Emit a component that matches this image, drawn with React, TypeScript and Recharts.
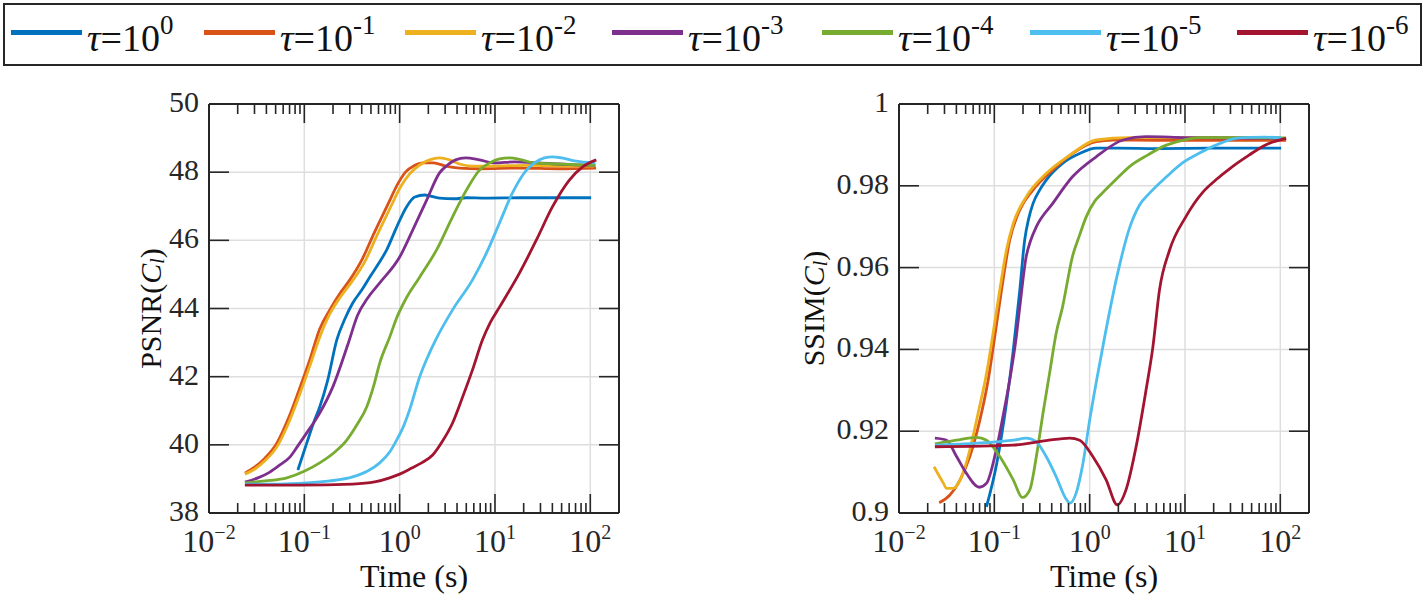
import React from 'react';
import { LineChart, Line, XAxis, YAxis, CartesianGrid, ReferenceLine, Legend } from 'recharts';

// ---------- ticks ----------
const X_DOMAIN: [number, number] = [0.01, 200];
const X_MAJOR = [0.01, 0.1, 1, 10, 100];
const X_MINOR = [
  0.02, 0.03, 0.04, 0.05, 0.06, 0.07, 0.08, 0.09,
  0.2, 0.3, 0.4, 0.5, 0.6, 0.7, 0.8, 0.9,
  2, 3, 4, 5, 6, 7, 8, 9,
  20, 30, 40, 50, 60, 70, 80, 90,
];
const X_TICKS = [...X_MAJOR, ...X_MINOR].sort((a, b) => a - b);
const PSNR_TICKS = [38, 40, 42, 44, 46, 48, 50];
const SSIM_TICKS = [0.9, 0.92, 0.94, 0.96, 0.98, 1];

// ---------- series meta ----------
const TAU_EXP = ['0', '-1', '-2', '-3', '-4', '-5', '-6'];
const COLORS = ['#0072BD', '#D95319', '#EDB120', '#7E2F8E', '#77AC30', '#4DBEEE', '#A2142F'];

// ---------- PSNR data [t, value] ----------
const psnrTau0 = [[0.0855, 39.26], [0.106, 40.05], [0.126, 40.67], [0.145, 41.11], [0.176, 41.9], [0.219, 43.08], [0.266, 43.69], [0.322, 44.16], [0.4, 44.54], [0.485, 44.92], [0.618, 45.37], [0.731, 45.72], [0.93, 46.39], [1.18, 46.98], [1.44, 47.27], [1.83, 47.33], [2.62, 47.24], [3.77, 47.22], [5, 47.25], [8, 47.24], [20, 47.25], [50, 47.25], [102, 47.25]];
const psnrTau1 = [[0.0238, 39.17], [0.0303, 39.35], [0.0386, 39.61], [0.0515, 40.05], [0.0705, 40.88], [0.0897, 41.67], [0.114, 42.49], [0.145, 43.4], [0.185, 43.96], [0.235, 44.43], [0.3, 44.84], [0.4, 45.42], [0.547, 46.25], [0.748, 47.04], [0.953, 47.65], [1.156, 48.01], [1.4, 48.18], [1.78, 48.27], [2.27, 48.27], [3.03, 48.18], [4.25, 48.12], [6.88, 48.1], [18, 48.12], [47, 48.1], [115, 48.12]];
const psnrTau2 = [[0.0238, 39.14], [0.0303, 39.29], [0.0386, 39.53], [0.0515, 39.94], [0.0705, 40.73], [0.0897, 41.49], [0.114, 42.31], [0.145, 43.16], [0.185, 43.84], [0.235, 44.31], [0.314, 44.78], [0.43, 45.37], [0.588, 46.19], [0.805, 46.98], [1.024, 47.57], [1.273, 47.95], [1.62, 48.21], [2.06, 48.36], [2.62, 48.42], [3.34, 48.36], [4.25, 48.24], [5.68, 48.18], [8.76, 48.18], [23, 48.2], [60, 48.18], [110, 48.18]];
const psnrTau3 = [[0.0238, 38.91], [0.0326, 39.03], [0.0435, 39.2], [0.0554, 39.41], [0.0705, 39.64], [0.0855, 39.97], [0.106, 40.35], [0.145, 40.93], [0.199, 41.7], [0.285, 42.93], [0.363, 43.81], [0.462, 44.31], [0.618, 44.75], [1.0, 45.51], [1.37, 46.3], [1.92, 47.18], [2.62, 47.98], [3.18, 48.21], [3.86, 48.36], [4.91, 48.42], [6.88, 48.36], [9.88, 48.27], [16, 48.3], [29, 48.27], [60, 48.22], [113, 48.2]];
const psnrTau4 = [[0.0238, 38.88], [0.0386, 38.94], [0.0656, 39.03], [0.101, 39.23], [0.145, 39.47], [0.209, 39.79], [0.279, 40.14], [0.355, 40.58], [0.451, 41.11], [0.534, 41.73], [0.618, 42.4], [0.786, 43.16], [0.93, 43.72], [1.13, 44.22], [1.62, 44.92], [2.44, 45.72], [3.59, 46.69], [5.03, 47.48], [6.88, 48.06], [8.76, 48.27], [11.15, 48.39], [14.2, 48.42], [19, 48.36], [26, 48.27], [47, 48.24], [113, 48.2]];
const psnrTau5 = [[0.0238, 38.85], [0.0554, 38.85], [0.106, 38.88], [0.185, 38.94], [0.322, 39.06], [0.462, 39.23], [0.618, 39.47], [0.786, 39.79], [0.93, 40.14], [1.1, 40.55], [1.27, 41.02], [1.62, 41.99], [1.97, 42.58], [2.44, 43.13], [3.59, 43.96], [5.81, 44.84], [8.15, 45.63], [11.15, 46.51], [15.25, 47.39], [21.4, 48.06], [25.9, 48.27], [33, 48.42], [40, 48.45], [49.7, 48.42], [68, 48.33], [113, 48.27]];
const psnrTau6 = [[0.0238, 38.82], [0.0897, 38.82], [0.322, 38.85], [0.547, 38.91], [0.786, 39.03], [1.0, 39.14], [1.34, 39.32], [1.7, 39.47], [2.22, 39.7], [2.82, 40.11], [3.59, 40.64], [4.57, 41.4], [5.81, 42.2], [7.4, 43.08], [8.97, 43.6], [11.15, 44.04], [18.05, 45.04], [27.2, 46.01], [40, 46.98], [60.3, 47.77], [82.5, 48.15], [115.6, 48.36]];

// ---------- SSIM data [t, value] ----------
const ssimTau0 = [[0.0827, 0.9015], [0.106, 0.9121], [0.134, 0.9268], [0.158, 0.9398], [0.185, 0.9545], [0.208, 0.9667], [0.23, 0.9721], [0.255, 0.9757], [0.2995, 0.979], [0.35, 0.9814], [0.52, 0.9855], [0.786, 0.9879], [1.17, 0.9892], [2, 0.9892], [5, 0.9891], [20, 0.9892], [102, 0.9892]];
const ssimTau1 = [[0.0264, 0.9025], [0.0342, 0.9044], [0.0435, 0.908], [0.0553, 0.9138], [0.0705, 0.9227], [0.0862, 0.9325], [0.101, 0.9431], [0.119, 0.9545], [0.145, 0.9667], [0.185, 0.9741], [0.255, 0.979], [0.41, 0.9839], [0.66, 0.9879], [1.17, 0.9908], [1.75, 0.9912], [5, 0.9911], [20, 0.9911], [115, 0.9911]];
const ssimTau2 = [[0.0233, 0.9113], [0.0292, 0.9073], [0.0316, 0.906], [0.037, 0.906], [0.0454, 0.9089], [0.0553, 0.9154], [0.0676, 0.9244], [0.083, 0.9342], [0.097, 0.9439], [0.114, 0.9545], [0.134, 0.9643], [0.158, 0.9708], [0.216, 0.9773], [0.35, 0.983], [0.62, 0.9875], [1.17, 0.9912], [2.6, 0.9918], [10, 0.9918], [100, 0.9918]];
const ssimTau3 = [[0.0238, 0.9183], [0.0316, 0.9178], [0.0402, 0.9138], [0.051, 0.9097], [0.0695, 0.9063], [0.083, 0.9073], [0.101, 0.9138], [0.123, 0.9235], [0.145, 0.9325], [0.17, 0.9431], [0.185, 0.9504], [0.216, 0.9627], [0.241, 0.9667], [0.276, 0.97], [0.41, 0.9757], [0.66, 0.9822], [1.17, 0.9871], [2.24, 0.9912], [3.9, 0.992], [10, 0.9918], [115, 0.9916]];
const ssimTau4 = [[0.0238, 0.9169], [0.04, 0.9178], [0.065, 0.9185], [0.083, 0.9178], [0.114, 0.9138], [0.158, 0.9081], [0.197, 0.9038], [0.235, 0.9056], [0.276, 0.9138], [0.324, 0.9244], [0.38, 0.9342], [0.445, 0.9439], [0.52, 0.9504], [0.66, 0.9627], [0.786, 0.968], [0.92, 0.9724], [1.128, 0.9762], [1.33, 0.978], [1.92, 0.9817], [2.62, 0.9847], [4.05, 0.9875], [6.0, 0.9897], [9.0, 0.991], [14, 0.9918], [40, 0.9918], [115, 0.9917]];
const ssimTau5 = [[0.0238, 0.9166], [0.158, 0.9178], [0.216, 0.9183], [0.276, 0.9174], [0.35, 0.9138], [0.445, 0.9089], [0.56, 0.9036], [0.62, 0.9024], [0.72, 0.9048], [0.85, 0.9121], [1.0, 0.9227], [1.184, 0.9325], [1.436, 0.943], [1.918, 0.9575], [2.623, 0.9697], [3.339, 0.9753], [4.25, 0.9782], [6.4, 0.9822], [9.41, 0.9856], [14.2, 0.988], [21.4, 0.99], [37.2, 0.9917], [68, 0.9919], [102, 0.9917]];
const ssimTau6 = [[0.0238, 0.9162], [0.158, 0.9166], [0.35, 0.9177], [0.62, 0.9183], [0.786, 0.9178], [1.08, 0.9138], [1.49, 0.9081], [1.95, 0.902], [2.4, 0.9056], [3.07, 0.9162], [3.9, 0.93], [4.6, 0.9405], [5.4, 0.9545], [6.9, 0.9643], [10.2, 0.9724], [15.5, 0.9785], [21, 0.9814], [31.5, 0.9847], [47, 0.9875], [70, 0.99], [115, 0.9916]];

const PSNR_SERIES = [psnrTau0, psnrTau1, psnrTau2, psnrTau3, psnrTau4, psnrTau5, psnrTau6];
const SSIM_SERIES = [ssimTau0, ssimTau1, ssimTau2, ssimTau3, ssimTau4, ssimTau5, ssimTau6];

const toPts = (arr: number[][]) => arr.map(([t, v]) => ({ t, v }));

// ---------- style ----------
const FONT = '"Liberation Serif", "Times New Roman", serif';
const AXIS = '#262626';
const GRID = '#dedede';
const PAGE_H = 599;
const PLOT_TOP = 104;
const PLOT_BOTTOM = 513;
const X_AXIS_H = PAGE_H - PLOT_BOTTOM;
const MAJOR_LEN = 19;
const MINOR_LEN = 10;
const Y_TICK_LEN = 20;
// legend item left edges (page px), style only
const LEGEND_ITEM_X = [11, 204, 405, 612, 822, 1030, 1237];

const isMajor = (v: number) => {
  const l = Math.log10(v);
  return Math.abs(l - Math.round(l)) < 1e-6;
};

const BottomTick = (props: any) => {
  const { x, y, payload } = props;
  const v = payload.value as number;
  const major = isMajor(v);
  const e = Math.round(Math.log10(v));
  return (
    <g>
      <line x1={x} x2={x} y1={y} y2={y - (major ? MAJOR_LEN : MINOR_LEN)} stroke={AXIS} strokeWidth={1.6} />
      {major && (
        <text x={x} y={y + 39} textAnchor="middle" fontFamily={FONT} fontSize={32} fill={AXIS}>
          10
          <tspan fontSize={20} dy={-13}>{e < 0 ? '\u2212' + -e : String(e)}</tspan>
        </text>
      )}
    </g>
  );
};

const TopTick = (props: any) => {
  const { x, y, payload } = props;
  const major = isMajor(payload.value);
  return <line x1={x} x2={x} y1={y} y2={y + (major ? MAJOR_LEN : MINOR_LEN)} stroke={AXIS} strokeWidth={1.6} />;
};

const LeftTick = (props: any) => {
  const { x, y, payload } = props;
  return (
    <g>
      <line x1={x} x2={x + Y_TICK_LEN} y1={y} y2={y} stroke={AXIS} strokeWidth={1.6} />
      <text x={x - 10} y={y + 8} textAnchor="end" fontFamily={FONT} fontSize={30} fill={AXIS}>
        {String(payload.value)}
      </text>
    </g>
  );
};

const RightTick = (props: any) => {
  const { x, y } = props;
  return <line x1={x} x2={x - Y_TICK_LEN} y1={y} y2={y} stroke={AXIS} strokeWidth={1.6} />;
};

const LegendBox = (props: any) => {
  const payload: any[] = props.payload || [];
  const items = TAU_EXP.map((e, i) => {
    const name = `τ=10^${e}`;
    const p = payload.find((q) => q.value === name);
    return { e, color: p ? p.color : COLORS[i], key: name, left: LEGEND_ITEM_X[i] - 5 };
  });
  return (
    <div
      style={{
        boxSizing: 'border-box',
        position: 'relative',
        width: 1419,
        height: 63,
        border: `2px solid ${AXIS}`,
        fontFamily: FONT,
        background: '#fff',
      }}
    >
      {items.map((it) => (
        <div key={it.key} style={{ position: 'absolute', left: it.left, top: 0, height: 59, display: 'flex', alignItems: 'center' }}>
          <span style={{ display: 'inline-block', width: 71, height: 4.5, background: it.color, position: 'relative', top: -2 }} />
          <span style={{ fontSize: 38, lineHeight: 1, marginLeft: 5, color: '#111', position: 'relative', top: 3, whiteSpace: 'nowrap' }}>
            <span style={{ fontStyle: 'italic' }}>τ</span>=10
            <span style={{ fontSize: 27, position: 'relative', top: -17 }}>{it.e}</span>
          </span>
        </div>
      ))}
    </div>
  );
};

type PanelProps = {
  width: number;
  yAxisWidth: number;
  marginRight: number;
  yDomain: [number, number];
  yTicks: number[];
  series: number[][][];
  yTitle: string;
  titleX: number;
  withLegend?: boolean;
};

const Panel = ({ width, yAxisWidth, marginRight, yDomain, yTicks, series, yTitle, titleX, withLegend }: PanelProps) => {
  const plotW = width - yAxisWidth - marginRight;
  const cx = yAxisWidth + plotW / 2;
  const cy = (PLOT_TOP + PLOT_BOTTOM) / 2;
  return (
    <LineChart width={width} height={PAGE_H} margin={{ top: PLOT_TOP, right: marginRight, bottom: 0, left: 0 }}>
      <CartesianGrid vertical={false} stroke={GRID} strokeWidth={1.5} />
      {X_MAJOR.slice(1).map((v) => (
        <ReferenceLine key={v} x={v} stroke={GRID} strokeWidth={1.5} />
      ))}
      <XAxis
        dataKey="t"
        type="number"
        scale="log"
        domain={X_DOMAIN}
        allowDataOverflow
        ticks={X_TICKS}
        interval={0}
        height={X_AXIS_H}
        tickLine={false}
        tickSize={0}
        tickMargin={0}
        axisLine={{ stroke: AXIS, strokeWidth: 2 }}
        tick={(p: any) => <BottomTick {...p} />}
        label={{
          content: () => (
            <text x={cx} y={587} textAnchor="middle" fontFamily={FONT} fontSize={32} fill="#111">
              Time (s)
            </text>
          ),
        }}
      />
      <XAxis
        xAxisId="top"
        orientation="top"
        mirror
        dataKey="t"
        type="number"
        scale="log"
        domain={X_DOMAIN}
        allowDataOverflow
        ticks={X_TICKS}
        interval={0}
        tickLine={false}
        tickSize={0}
        tickMargin={0}
        axisLine={{ stroke: AXIS, strokeWidth: 2 }}
        tick={(p: any) => <TopTick {...p} />}
      />
      <YAxis
        type="number"
        domain={yDomain}
        allowDataOverflow
        ticks={yTicks}
        interval={0}
        width={yAxisWidth}
        tickLine={false}
        tickSize={0}
        tickMargin={0}
        axisLine={{ stroke: AXIS, strokeWidth: 2 }}
        tick={(p: any) => <LeftTick {...p} />}
        label={{
          content: () => (
            <text
              x={titleX}
              y={cy}
              transform={`rotate(-90, ${titleX}, ${cy})`}
              textAnchor="middle"
              dominantBaseline="central"
              fontFamily={FONT}
              fontSize={30}
              fill="#111"
            >
              {yTitle}(<tspan fontStyle="italic">C</tspan>
              <tspan fontStyle="italic" fontSize={20} dy={7}>l</tspan>
              <tspan dy={-7}>)</tspan>
            </text>
          ),
        }}
      />
      <YAxis
        yAxisId="r"
        orientation="right"
        mirror
        type="number"
        domain={yDomain}
        allowDataOverflow
        ticks={yTicks}
        interval={0}
        tickLine={false}
        tickSize={0}
        tickMargin={0}
        axisLine={{ stroke: AXIS, strokeWidth: 2 }}
        tick={(p: any) => <RightTick {...p} />}
      />
      {series.map((s, i) => (
        <Line
          key={i}
          data={toPts(s)}
          dataKey="v"
          name={`τ=10^${TAU_EXP[i]}`}
          type="monotone"
          stroke={COLORS[i]}
          strokeWidth={2.8}
          dot={false}
          activeDot={false}
          isAnimationActive={false}
        />
      ))}
      {withLegend && (
        <Legend
          layout="horizontal"
          verticalAlign="middle"
          align="center"
          width={1419}
          height={63}
          wrapperStyle={{ left: 3, top: 3, width: 1419, height: 63 }}
          content={(p: any) => <LegendBox {...p} />}
        />
      )}
    </LineChart>
  );
};

export default function App() {
  return (
    <div style={{ position: 'absolute', left: 0, top: 0, width: 1425, height: PAGE_H, background: '#fff', overflow: 'hidden' }}>
      <div style={{ position: 'absolute', left: 720, top: 0 }}>
        <Panel
          width={705}
          yAxisWidth={179}
          marginRight={116}
          yDomain={[0.9, 1]}
          yTicks={SSIM_TICKS}
          series={SSIM_SERIES}
          yTitle="SSIM"
          titleX={93}
        />
      </div>
      <div style={{ position: 'absolute', left: 0, top: 0 }}>
        <Panel
          width={720}
          yAxisWidth={209}
          marginRight={101}
          yDomain={[38, 50]}
          yTicks={PSNR_TICKS}
          series={PSNR_SERIES}
          yTitle="PSNR"
          titleX={150}
          withLegend
        />
      </div>
    </div>
  );
}
